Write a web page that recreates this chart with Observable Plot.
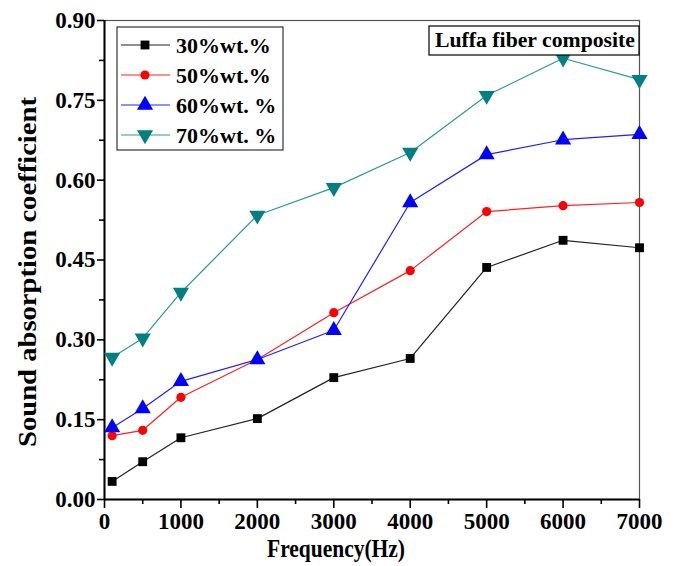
<!DOCTYPE html>
<html><head><meta charset="utf-8">
<script src="https://cdn.jsdelivr.net/npm/d3@7"></script>
<script src="https://cdn.jsdelivr.net/npm/@observablehq/plot@0.6"></script>
<style>body{margin:0;background:#fff} #chart{width:683px;height:566px}
#chart svg text{font-family:"Liberation Serif","Tinos","Times New Roman","DejaVu Serif",serif !important;font-weight:bold}</style>
</head><body><div id="chart"></div>
<script>
const frequencies = [100, 500, 1000, 2000, 3000, 4000, 5000, 6000, 7000];
const seriesNames = ["30%wt.%", "50%wt.%", "60%wt. %", "70%wt. %"];
const values30 = [0.034, 0.071, 0.116, 0.152, 0.229, 0.265, 0.436, 0.487, 0.473];
const values50 = [0.120, 0.130, 0.192, 0.263, 0.351, 0.430, 0.541, 0.552, 0.558];
const values60 = [0.135, 0.171, 0.222, 0.263, 0.318, 0.558, 0.648, 0.676, 0.686];
const values70 = [0.267, 0.303, 0.389, 0.534, 0.586, 0.652, 0.759, 0.829, 0.789];
const xTicks = [0, 1000, 2000, 3000, 4000, 5000, 6000, 7000];
const xMinorTicks = [500, 1500, 2500, 3500, 4500, 5500, 6500];
const yTicks = [0, 0.15, 0.30, 0.45, 0.60, 0.75, 0.90];
const yMinorTicks = [0.075, 0.225, 0.375, 0.525, 0.675, 0.825];
const xTitle = "Frequency(Hz)";
const yTitle = "Sound absorption coefficient";
const annotation = "Luffa fiber composite";

const colors = ["#000000", "#ff0000", "#0000ff", "#008080"];
const lineColors = ["#222222", "#ff2020", "#2020ff", "#2a9a9a"];
const sqrt3 = Math.sqrt(3);
const triangleDown = {
  draw(context, size) {
    const y = -Math.sqrt(size / (sqrt3 * 3));
    context.moveTo(0, -y * 2);
    context.lineTo(-sqrt3 * y, y);
    context.lineTo(sqrt3 * y, y);
    context.closePath();
  }
};
const symbols = [d3.symbolSquare, d3.symbolCircle, d3.symbolTriangle, triangleDown];
const radii = [5, 4.6, 6, 6];

const allValues = [values30, values50, values60, values70];
const data = allValues.flatMap((vals, i) => vals.map((v, j) => ({series: seriesNames[i], f: frequencies[j], v})));

const font = "Liberation Serif, Tinos, Times New Roman, DejaVu Serif, serif";
const seriesMarks = seriesNames.flatMap((name, i) => {
  const d = data.filter(r => r.series === name);
  return [
    Plot.line(d, {x: "f", y: "v", stroke: lineColors[i], strokeWidth: 1.2}),
    Plot.dot(d, {x: "f", y: "v", symbol: symbols[i], fill: colors[i], stroke: "none", r: radii[i]})
  ];
});

const chart = Plot.plot({
  width: 683, height: 566,
  marginLeft: 104, marginRight: 44, marginTop: 20, marginBottom: 67,
  x: {domain: [0, 7000]},
  y: {domain: [0, 0.9]},
  style: {fontFamily: font, fontWeight: "bold", fontSize: "22px", color: "#000", background: "#fff", overflow: "visible"},
  marks: [
    Plot.frame({stroke: "#555", strokeWidth: 1.2}),
    Plot.axisX({ticks: xTicks, tickSize: 9, tickPadding: 4, strokeWidth: 1.6, tickFormat: d3.format("d"), label: null, fontSize: 23, fontWeight: "bold"}),
    Plot.axisX({ticks: xMinorTicks, tickSize: 5, strokeWidth: 1.6, tickFormat: () => "", label: null}),
    Plot.axisY({ticks: yTicks, tickSize: 7, tickPadding: 2, strokeWidth: 1.6, tickFormat: d3.format(".2f"), label: null, fontSize: 23, fontWeight: "bold"}),
    Plot.axisY({ticks: yMinorTicks, tickSize: 5, strokeWidth: 1.6, tickFormat: () => "", label: null}),
    Plot.ruleX([0], {stroke: "#000", strokeWidth: 2}),
    Plot.ruleY([0], {stroke: "#000", strokeWidth: 2}),
    ...seriesMarks
  ]
});
document.getElementById("chart").appendChild(chart);

const svg = d3.select(chart);
// axis titles
svg.append("text").attr("transform", "translate(336,557) scale(1,1.15)").attr("text-anchor", "middle")
  .attr("font-size", 22)
  .attr("textLength", 138).attr("lengthAdjust", "spacingAndGlyphs").text(xTitle);
svg.append("text").attr("transform", "translate(36,272) rotate(-90)").attr("text-anchor", "middle")
  .attr("font-size", 26)
  .attr("textLength", 350).attr("lengthAdjust", "spacingAndGlyphs").text(yTitle);

// legend
const lg = svg.append("g");
lg.append("rect").attr("x", 117).attr("y", 27).attr("width", 166).attr("height", 123)
  .attr("fill", "#fff").attr("stroke", "#333").attr("stroke-width", 1.2);
const rowY = [45, 75, 105, 135];
seriesNames.forEach((name, i) => {
  const y = rowY[i];
  lg.append("line").attr("x1", 121).attr("x2", 170).attr("y1", y).attr("y2", y)
    .attr("stroke", lineColors[i]).attr("stroke-width", 1.2);
  lg.append("path").attr("transform", `translate(145,${y})`)
    .attr("d", d3.symbol(symbols[i], Math.PI * radii[i] * radii[i])()).attr("fill", colors[i]);
  lg.append("text").attr("x", 176).attr("y", y + 8).attr("text-anchor", "start")
    .attr("font-size", 22).text(name);
});

// annotation box
svg.append("rect").attr("x", 429).attr("y", 26).attr("width", 210).attr("height", 29)
  .attr("fill", "#fff").attr("stroke", "#000").attr("stroke-width", 1.2);
svg.append("text").attr("x", 435).attr("y", 47).attr("text-anchor", "start")
  .attr("font-size", 20)
  .attr("textLength", 200).attr("lengthAdjust", "spacingAndGlyphs").text(annotation);
</script>
</body></html>
